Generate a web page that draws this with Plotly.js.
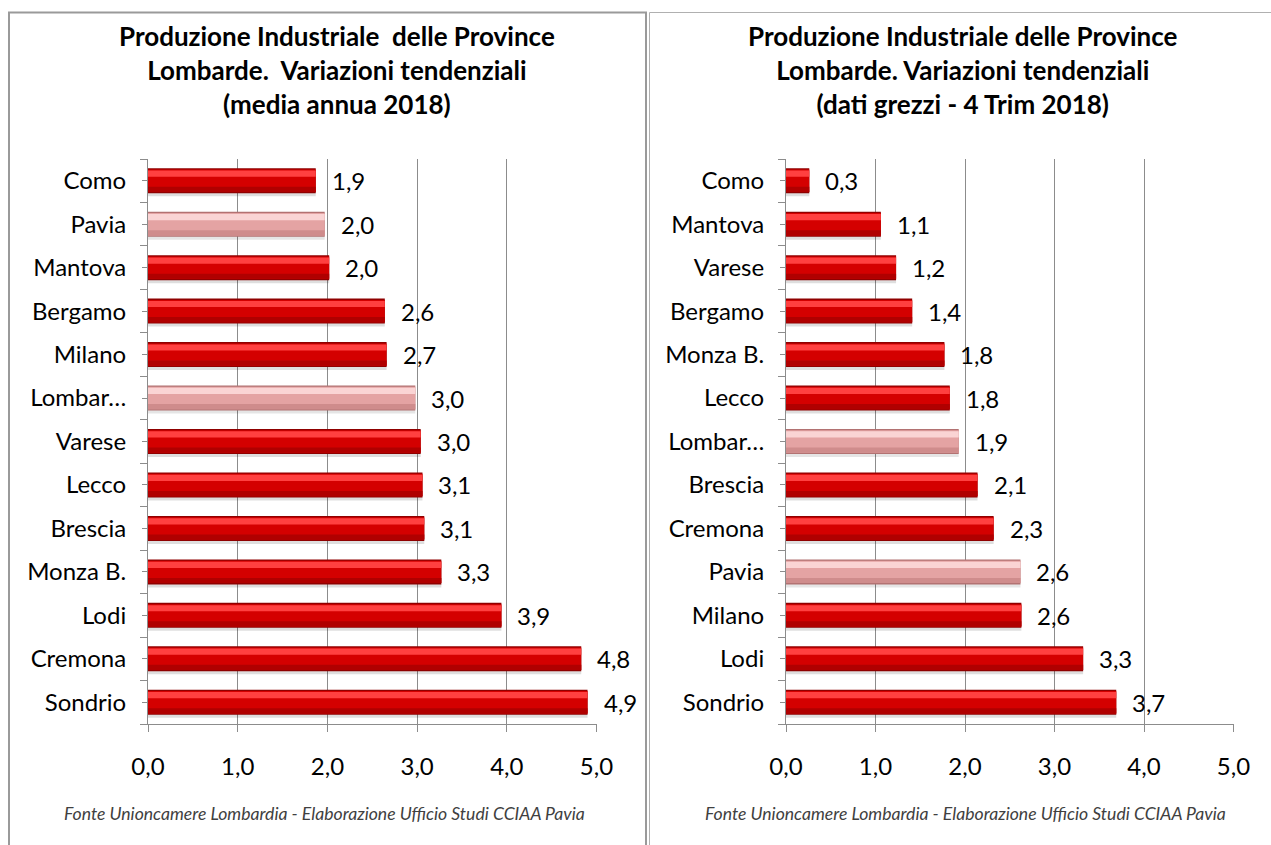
<!DOCTYPE html>
<html>
<head>
<meta charset="utf-8">
<script src="https://cdn.plot.ly/plotly-3.0.1.min.js"></script>
<style>
  html, body { margin: 0; padding: 0; background: #ffffff; }
  #chart { width: 1271px; height: 845px; }
</style>
</head>
<body>
<div id="chart"></div>
<script>
// ---------- data ----------
const leftCategories = ["Como", "Pavia", "Mantova", "Bergamo", "Milano", "Lombardia", "Varese", "Lecco", "Brescia", "Monza B.", "Lodi", "Cremona", "Sondrio"];
const leftValues     = [1.87, 1.97, 2.02, 2.64, 2.66, 2.98, 3.04, 3.06, 3.08, 3.27, 3.94, 4.83, 4.90];
const leftHighlight  = ["Pavia", "Lombardia"];

const rightCategories = ["Como", "Mantova", "Varese", "Bergamo", "Monza B.", "Lecco", "Lombardia", "Brescia", "Cremona", "Pavia", "Milano", "Lodi", "Sondrio"];
const rightValues     = [0.26, 1.06, 1.23, 1.41, 1.77, 1.83, 1.93, 2.14, 2.32, 2.62, 2.63, 3.32, 3.69];
const rightHighlight  = ["Pavia", "Lombardia"];

const shortLabels = { "Lombardia": "Lombar\u2026" };

const xTickValues = [0, 1, 2, 3, 4, 5];

const leftTitle  = "Produzione Industriale  delle Province<br>Lombarde.  Variazioni tendenziali<br>(media annua 2018)";
const rightTitle = "Produzione Industriale delle Province<br>Lombarde. Variazioni tendenziali<br>(dati grezzi - 4 Trim 2018)";
const footerText = "Fonte Unioncamere Lombardia - Elaborazione Ufficio Studi CCIAA Pavia";

// ---------- style ----------
const W = 1271, H = 845;
const FONT = "Lato, 'Open Sans', sans-serif";
const GRID = "#8c8c8c";
const CAT_PX = 43.46;          // pixel height of one category band
const u = px => px / CAT_PX;   // pixel -> category units

const RED  = { shadow: "rgba(0,0,0,0.13)", edge: "#8f0000", main: "#d40000", top: "#ff4040", bottom: "#b00000" };
const PINK = { shadow: "rgba(0,0,0,0.10)", edge: "#b27272", main: "#e4a3a3", top: "#fad4d4", bottom: "#cf8c8c" };

// layers: [key, fromPx, toPx] relative to the category centre (down = positive)
const layers = [
  ["shadow", -9, 15.5],
  ["edge", -12.5, 12.5],
  ["main", -11.2, 11.2],
  ["top", -10.2, -4],
  ["bottom", 6, 11.2]
];

function fmt(v) { return v.toFixed(1).replace(".", ","); }

function barTraces(cats, vals, hl, xa, ya) {
  const out = [];
  layers.forEach(([key, a, b]) => {
    out.push({
      type: "bar",
      orientation: "h",
      y: cats,
      x: vals,
      xaxis: xa,
      yaxis: ya,
      width: u(b - a),
      offset: u(a),
      marker: { color: cats.map(c => (hl.includes(c) ? PINK : RED)[key]), line: { width: 0 } },
      hoverinfo: "skip",
      showlegend: false
    });
  });
  return out;
}

// invisible trace carrying the categories for the centre-tick overlay axis
function tickCarrier(cats, vals, xa, ya) {
  return {
    type: "scatter", mode: "markers", y: cats, x: vals, xaxis: xa, yaxis: ya,
    marker: { opacity: 0, size: 1 }, hoverinfo: "skip", showlegend: false
  };
}

function labelAnnotations(cats, vals, xa, ya) {
  return cats.map((c, i) => ({
    x: vals[i], y: c, xref: xa, yref: ya,
    text: fmt(vals[i]),
    showarrow: false,
    xanchor: "left", yanchor: "middle",
    xshift: 14,
    font: { family: FONT, size: 24, color: "#000000" }
  }));
}

const traces = []
  .concat(barTraces(leftCategories, leftValues, leftHighlight, "x", "y"))
  .concat(barTraces(rightCategories, rightValues, rightHighlight, "x2", "y2"))
  .concat([tickCarrier(leftCategories, leftValues, "x", "y3"),
           tickCarrier(rightCategories, rightValues, "x2", "y4")]);

// plot areas (pixels)
const plotTop = 159, plotBottom = 724;
const yDomain = [1 - plotBottom / H, 1 - plotTop / H];
const leftX = [148 / W, 596.5 / W];
const rightX = [786 / W, 1233.5 / W];

function xAxis(domain, anchor) {
  return {
    domain: domain, anchor: anchor,
    range: [0, 5], tickvals: xTickValues, tickformat: ".1f",
    showgrid: true, gridcolor: GRID, gridwidth: 1,
    zeroline: false,
    showline: true, linecolor: GRID, linewidth: 1,
    ticks: "outside", ticklen: 7, tickcolor: GRID, tickwidth: 1,
    ticklabelstandoff: 14,
    tickfont: { family: FONT, size: 24, color: "#000000" },
    fixedrange: true
  };
}
function yAxis(cats, anchor) {
  return {
    domain: yDomain, anchor: anchor,
    type: "category", categoryorder: "array", categoryarray: cats,
    range: [cats.length - 0.5, -0.5],
    tickvals: cats, ticktext: cats.map(c => shortLabels[c] || c),
    showgrid: false, zeroline: false,
    showline: true, linecolor: GRID, linewidth: 1,
    ticks: "outside", ticklen: 7, tickcolor: GRID, tickwidth: 1,
    tickson: "boundaries",
    ticklabelstandoff: 16,
    tickfont: { family: FONT, size: 24, color: "#000000" },
    fixedrange: true
  };
}
function centreTickAxis(cats, over, anchor) {
  return {
    domain: yDomain, anchor: anchor, overlaying: over, side: "left",
    type: "category", categoryorder: "array", categoryarray: cats,
    range: [cats.length - 0.5, -0.5],
    tickvals: cats, ticktext: cats.map(() => ""),
    showgrid: false, zeroline: false, showline: false,
    showticklabels: true,
    ticks: "outside", ticklen: 5, tickcolor: GRID, tickwidth: 1,
    tickfont: { size: 1, color: "rgba(0,0,0,0)" },
    fixedrange: true
  };
}

const annotations = []
  .concat(labelAnnotations(leftCategories, leftValues, "x", "y"))
  .concat(labelAnnotations(rightCategories, rightValues, "x2", "y2"))
  .concat([
    { x: 337 / W, y: 1 - 70 / H, xref: "paper", yref: "paper", text: "<b>" + leftTitle + "</b>",
      showarrow: false, xanchor: "center", yanchor: "middle", align: "center",
      font: { family: FONT, size: 26, color: "#000000" } },
    { x: 963 / W, y: 1 - 70 / H, xref: "paper", yref: "paper", text: "<b>" + rightTitle + "</b>",
      showarrow: false, xanchor: "center", yanchor: "middle", align: "center",
      font: { family: FONT, size: 26, color: "#000000" } },
    { x: 324 / W, y: 1 - 813 / H, xref: "paper", yref: "paper", text: "<i>" + footerText + "</i>",
      showarrow: false, xanchor: "center", yanchor: "middle",
      font: { family: FONT, size: 17.6, color: "#404040" } },
    { x: 965 / W, y: 1 - 813 / H, xref: "paper", yref: "paper", text: "<i>" + footerText + "</i>",
      showarrow: false, xanchor: "center", yanchor: "middle",
      font: { family: FONT, size: 17.6, color: "#404040" } }
  ]);

const shapes = [
  { type: "rect", xref: "paper", yref: "paper", x0: 9 / W, x1: 646 / W, y0: -0.02, y1: 1 - 12.5 / H,
    line: { color: "#9a9a9a", width: 2 }, fillcolor: "rgba(0,0,0,0)", layer: "below" },
  { type: "rect", xref: "paper", yref: "paper", x0: 649.5 / W, x1: 1.02, y0: -0.02, y1: 1 - 12.5 / H,
    line: { color: "#b0b0b0", width: 1 }, fillcolor: "rgba(0,0,0,0)", layer: "below" }
];

const layout = {
  width: W, height: H,
  margin: { l: 0, r: 0, t: 0, b: 0 },
  paper_bgcolor: "#ffffff", plot_bgcolor: "rgba(0,0,0,0)",
  separators: ",.",
  barmode: "overlay",
  showlegend: false,
  font: { family: FONT, color: "#000000" },
  xaxis: xAxis(leftX, "y"),
  yaxis: yAxis(leftCategories, "x"),
  xaxis2: xAxis(rightX, "y2"),
  yaxis2: yAxis(rightCategories, "x2"),
  yaxis3: centreTickAxis(leftCategories, "y", "x"),
  yaxis4: centreTickAxis(rightCategories, "y2", "x2"),
  annotations: annotations,
  shapes: shapes
};

Plotly.newPlot("chart", traces, layout, { displayModeBar: false, staticPlot: true });
</script>
</body>
</html>
